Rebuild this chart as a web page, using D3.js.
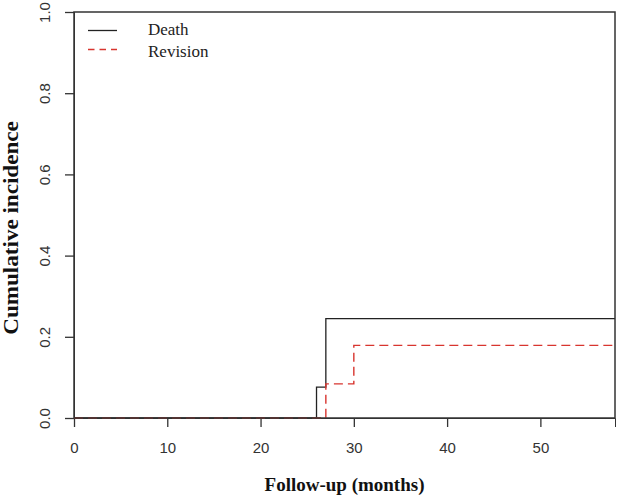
<!DOCTYPE html>
<html>
<head>
<meta charset="utf-8">
<script src="https://cdn.jsdelivr.net/npm/d3@7"></script>
<style>
  body { margin: 0; background: #fff; }
</style>
</head>
<body>
<div id="chart"></div>
<script>
// step data (time in months, cumulative incidence)
const deathTimes = [0, 26, 27, 58];
const deathValues = [0, 0.076, 0.245, 0.245];
const revisionTimes = [0, 27, 30, 58];
const revisionValues = [0, 0.084, 0.179, 0.179];
const xTicks = [0, 10, 20, 30, 40, 50];
const yTicks = [0, 0.2, 0.4, 0.6, 0.8, 1.0];
const legendLabels = ["Death", "Revision"];

const width = 618,
  height = 497;
const margin = { left: 74, top: 12, right: 3, bottom: 79 };

const svg = d3
  .select("#chart")
  .append("svg")
  .attr("width", width)
  .attr("height", height);

const x = d3.scaleLinear().domain([0, 58]).range([margin.left, width - margin.right]);
const y = d3.scaleLinear().domain([0, 1]).range([height - margin.bottom, margin.top]);

const axisColor = "#333";
const red = "#d8352f";

// x axis
const xAxis = svg
  .append("g")
  .attr("transform", `translate(0,${y(0)})`)
  .call(d3.axisBottom(x).tickValues(xTicks).tickSize(9).tickPadding(15).tickFormat(d3.format("d")));
xAxis.select(".domain").attr("stroke", axisColor);
xAxis.selectAll(".tick line").attr("stroke", axisColor).attr("stroke-width", 1.3);
xAxis
  .selectAll(".tick text")
  .attr("fill", axisColor)
  .style("font-family", "Liberation Sans, Arial, sans-serif")
  .style("font-size", "15px");

// y axis, labels rotated like R's default las=0
const yAxis = svg
  .append("g")
  .attr("transform", `translate(${x(0)},0)`)
  .call(d3.axisLeft(y).tickValues(yTicks).tickSize(9).tickFormat(d3.format(".1f")));
yAxis.select(".domain").attr("stroke", axisColor);
yAxis.selectAll(".tick line").attr("stroke", axisColor).attr("stroke-width", 1.3);
yAxis
  .selectAll(".tick text")
  .attr("fill", axisColor)
  .attr("x", null)
  .attr("dy", null)
  .attr("text-anchor", "middle")
  .attr("transform", "translate(-28,0) rotate(-90)")
  .attr("dominant-baseline", "middle")
  .style("font-family", "Liberation Sans, Arial, sans-serif")
  .style("font-size", "15px");

// step lines
const stepLine = d3
  .line()
  .x((d) => x(d[0]))
  .y((d) => y(d[1]))
  .curve(d3.curveStepAfter);

svg
  .append("path")
  .datum(deathTimes.map((t, i) => [t, deathValues[i]]))
  .attr("d", stepLine)
  .attr("fill", "none")
  .attr("stroke", "#222")
  .attr("stroke-width", 1.3);

svg
  .append("path")
  .datum(revisionTimes.map((t, i) => [t, revisionValues[i]]))
  .attr("d", stepLine)
  .attr("fill", "none")
  .attr("stroke", red)
  .attr("stroke-width", 1.4)
  .attr("stroke-dasharray", "9,5");

// plot box
svg
  .append("rect")
  .attr("x", x(0))
  .attr("y", y(1))
  .attr("width", x(58) - x(0))
  .attr("height", y(0) - y(1))
  .attr("fill", "none")
  .attr("stroke", axisColor)
  .attr("stroke-width", 1.5);

// legend
const legend = svg.append("g");
legendLabels.forEach((lab, i) => {
  let ly = 30.5 + i * 19;
  legend
    .append("line")
    .attr("x1", 88)
    .attr("x2", 117)
    .attr("y1", ly)
    .attr("y2", ly)
    .attr("stroke", i == 0 ? "#222" : red)
    .attr("stroke-width", 1.3)
    .attr("stroke-dasharray", i == 0 ? null : "6.5,5");
  legend
    .append("text")
    .attr("x", 148)
    .attr("y", 35 + i * 21.5)
    .text(lab)
    .style("font-family", "Liberation Serif, Times New Roman, serif")
    .style("font-size", "17px")
    .attr("fill", "#222");
});

// axis titles
svg
  .append("text")
  .attr("x", (x(0) + x(58)) / 2)
  .attr("y", 491)
  .attr("text-anchor", "middle")
  .text("Follow-up (months)")
  .style("font-family", "Liberation Serif, Times New Roman, serif")
  .style("font-weight", "bold")
  .style("font-size", "19px")
  .attr("fill", "#111");

svg
  .append("text")
  .attr("transform", `translate(18,228) rotate(-90) scale(1.1,1)`)
  .attr("text-anchor", "middle")
  .text("Cumulative incidence")
  .style("font-family", "Liberation Serif, Times New Roman, serif")
  .style("font-weight", "bold")
  .style("font-size", "21px")
  .attr("fill", "#111");
</script>
</body>
</html>
